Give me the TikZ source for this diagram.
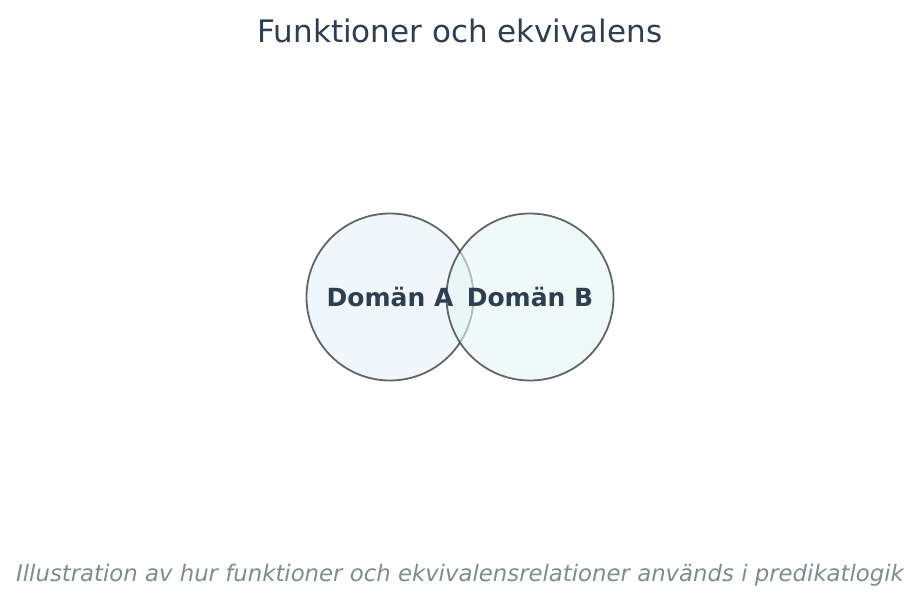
\documentclass[tikz,border=0pt]{standalone}
\usepackage{fontspec}
\setmainfont{DejaVu Sans}
\usepackage{xcolor}
\usepackage{tikz}
\definecolor{titletext}{HTML}{2C3E50}
\definecolor{captext}{HTML}{7F8C8D}
\definecolor{rim}{HTML}{333333}
\definecolor{blueA}{HTML}{E4F2FA}
\definecolor{tealB}{HTML}{E4F7F3}
\tikzset{
  domcirc/.style={circle, minimum size=167pt, inner sep=0pt, draw=rim, draw opacity=0.75, fill opacity=0.6, text opacity=1, line width=1.8pt},
  dlab/.style={text=titletext, font=\fontsize{25}{30}\selectfont\bfseries},
  titl/.style={text=titletext, font=\fontsize{31}{37}\selectfont},
  capt/.style={text=captext, font=\fontsize{22.8}{27}\selectfont\itshape}
}

\begin{document}
\begin{tikzpicture}[x=1pt,y=-1pt]
  \useasboundingbox (0,0) rectangle (920,607);
  \coordinate (cA) at (390,297);
  \coordinate (cB) at (530,297);

  \node[domcirc, fill=blueA] (A) at (cA) {};
  \node[domcirc, fill=tealB] (B) at (cB) {};
  \node[dlab] (labA) at (cA) {Domän A};
  \node[dlab] (labB) at (cB) {Domän B};

  \node[titl] (title) at (460,31) {Funktioner och ekvivalens};
  \node[capt] (caption) at (460,575) {Illustration av hur funktioner och ekvivalensrelationer används i predikatlogik};
\end{tikzpicture}
\end{document}
